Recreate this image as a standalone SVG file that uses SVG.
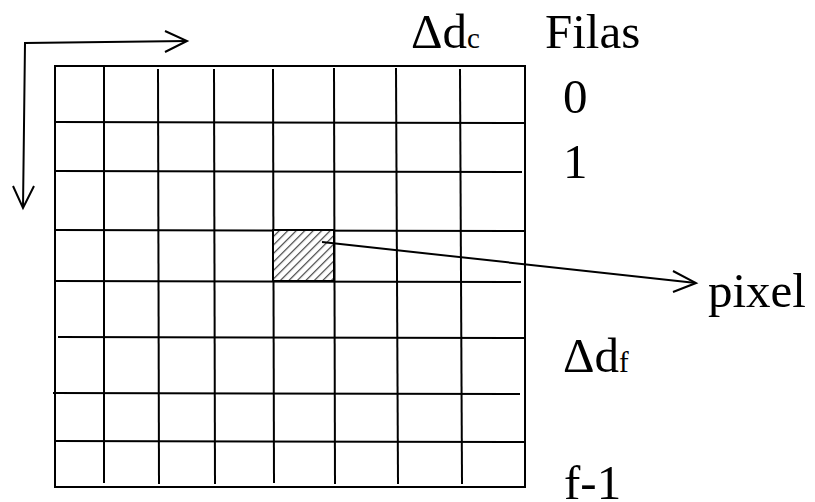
<svg xmlns="http://www.w3.org/2000/svg" width="815" height="502" viewBox="0 0 815 502">
<style>
.ln{stroke:#000;stroke-width:2;fill:none}
.t{font-family:"Liberation Serif","Times New Roman",serif;font-size:49px;fill:#000}
.s{font-size:29px}
</style>
<defs>
<pattern id="hatch" width="6" height="6" patternUnits="userSpaceOnUse" patternTransform="rotate(45)">
<rect width="6" height="6" fill="#fff"/>
<line x1="0" y1="0" x2="0" y2="6" stroke="#444" stroke-width="2.4"/>
</pattern>
</defs>
<rect width="815" height="502" fill="#fff"/>
<g id="grid">
<rect class="ln" x="55" y="66" width="470" height="421"/>
<g class="ln">
<line x1="104" y1="67" x2="104" y2="483"/>
<line x1="158" y1="69" x2="159" y2="484"/>
<line x1="214" y1="69" x2="215" y2="484"/>
<line x1="273" y1="69" x2="274" y2="483"/>
<line x1="334" y1="68" x2="335" y2="484"/>
<line x1="396" y1="68" x2="398" y2="484"/>
<line x1="460" y1="69" x2="462" y2="484"/>
<line x1="56" y1="122" x2="524" y2="123"/>
<line x1="56" y1="171" x2="522" y2="172"/>
<line x1="56" y1="230" x2="524" y2="231"/>
<line x1="56" y1="281" x2="521" y2="282"/>
<line x1="58" y1="337" x2="524" y2="338"/>
<line x1="53" y1="393" x2="520" y2="394"/>
<line x1="56" y1="441" x2="524" y2="442"/>
</g>
</g>
<g id="pixel-cell">
<rect x="273" y="230" width="61" height="51" fill="url(#hatch)" stroke="#000" stroke-width="2"/>
</g>
<g id="connectors" class="ln">
<polyline points="187,41 25,43 23,208"/>
<polyline points="165,31 187,41 165,52"/>
<polyline points="13,186 23,208 34,186"/>
<line x1="322" y1="242" x2="696" y2="283"/>
<polyline points="673,271 696,283 673,292"/>
</g>
<g id="labels">
<text class="t" x="411" y="48">Δd<tspan class="s">c</tspan></text>
<text class="t" x="545" y="48">Filas</text>
<text class="t" x="563" y="113">0</text>
<text class="t" x="563" y="178">1</text>
<text class="t" x="708" y="307">pixel</text>
<text class="t" x="563" y="372">Δd<tspan class="s">f</tspan></text>
<text class="t" x="564" y="499">f-1</text>
</g>
</svg>
